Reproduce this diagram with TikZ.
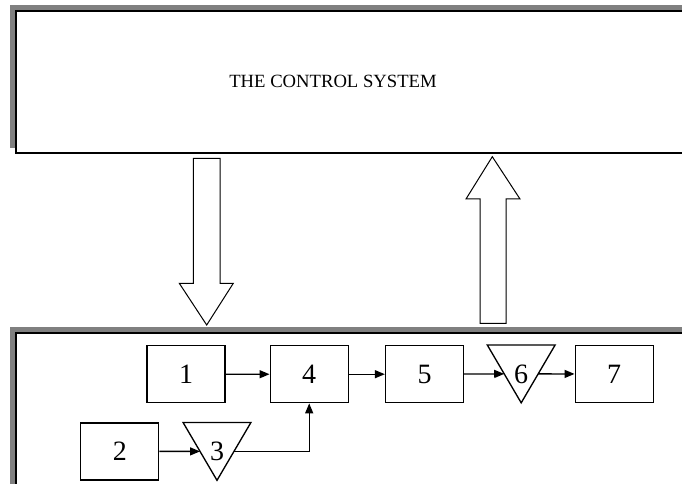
\documentclass[tikz,border=0pt]{standalone}
\usepackage{fontspec}
\setmainfont{Liberation Serif}
\usetikzlibrary{arrows.meta,calc}
\begin{document}
\begin{tikzpicture}[x=0.75pt,y=-0.75pt,
  shadow/.style={fill=black!50,draw=none},
  panel/.style={fill=white,draw=black,line width=1.2pt},
  block/.style={shape=rectangle,draw=black,line width=1pt,minimum width=58.5pt,minimum height=42.75pt,font=\fontsize{21}{24}\selectfont},
  tri/.style={shape=rectangle,minimum width=50.5pt,minimum height=43pt,font=\fontsize{21}{24}\selectfont},
  triline/.style={draw=black,line width=1pt,line join=miter},
  bigarrow/.style={draw=black,line width=0.75pt,fill=white},
  arr/.style={-{Triangle[length=7.5pt,width=6pt]},line width=1pt,draw=black}]
\useasboundingbox (0,0) rectangle (682,484);
% top panel
\fill[shadow] (10,5) rectangle (700,148);
\draw[panel] (16,11) rectangle (700,153);
\node[font=\fontsize{14}{16}\selectfont] (sys) at (333,81) {THE CONTROL SYSTEM};
% bottom panel
\fill[shadow] (10,327) rectangle (700,500);
\draw[panel] (16,333) rectangle (700,500);
% block arrows
\draw[bigarrow] (193.3,158.3) -- (220,158.3) -- (220,283.3) -- (233.3,283.3) -- (206.7,325) -- (179.3,283.3) -- (193.3,283.3) -- cycle;
\draw[bigarrow] (480,323.3) -- (506,323.3) -- (506,199) -- (520,199) -- (492.3,156.7) -- (466,199) -- (480,199) -- cycle;
% process
\node[block] (b1) at (186,374.3) {1};
\node[block] (b2) at (119.8,451.4) {2};
\node[tri] (t3) at (217,451.4) {3};
\node[block] (b4) at (309.2,374.2) {4};
\node[block] (b5) at (424.5,374.2) {5};
\node[tri] (t6) at (521.2,373.9) {6};
\node[block] (b7) at (614.2,374) {7};
\draw[triline] (t3.north west) -- (t3.north east) -- (t3.south) -- cycle;
\draw[triline] (t6.north west) -- (t6.north east) -- (t6.south) -- cycle;
\coordinate (t3w) at ($(t3.north west)!0.5!(t3.south)$);
\coordinate (t3e) at ($(t3.north east)!0.5!(t3.south)$);
\coordinate (t6w) at ($(t6.north west)!0.5!(t6.south)$);
\coordinate (t6e) at ($(t6.north east)!0.5!(t6.south)$);
\draw [arr] (b1) -- (b4);
\draw [arr] (b4) -- (b5);
\draw [arr] (b5) -- (t6w);
\draw [arr] (t6e) -- (b7);
\draw [arr] (b2) -- (t3w);
\draw [arr] (t3e) -| (b4.south);
\end{tikzpicture}
\end{document}
